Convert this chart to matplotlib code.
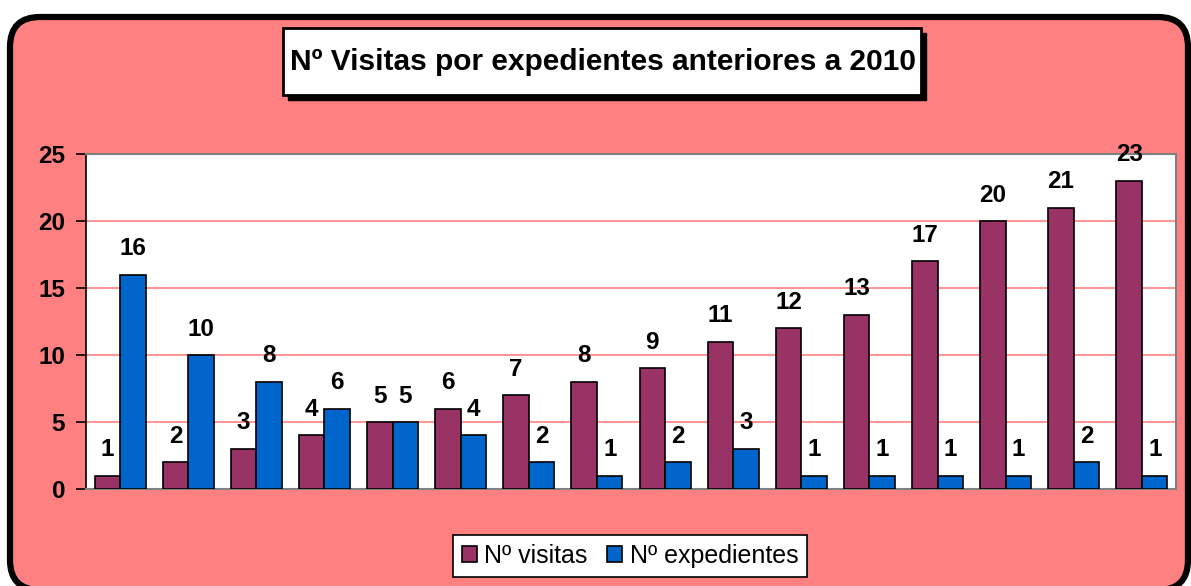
import matplotlib
matplotlib.use("Agg")
import matplotlib.pyplot as plt
import numpy as np
from matplotlib.patches import FancyBboxPatch, Rectangle

plt.rcParams['font.family'] = ['Liberation Sans', 'DejaVu Sans']

title = "Nº Visitas por expedientes anteriores a 2010"
series_names = ["Nº visitas", "Nº expedientes"]
visitas = [1, 2, 3, 4, 5, 6, 7, 8, 9, 11, 12, 13, 17, 20, 21, 23]
expedientes = [16, 10, 8, 6, 5, 4, 2, 1, 2, 3, 1, 1, 1, 1, 2, 1]
yticks = [0, 5, 10, 15, 20, 25]

c_vis = "#993366"
c_exp = "#0066CC"
bg = "#FF8080"

W, H = 11.91, 5.86
fig = plt.figure(figsize=(W, H), dpi=100)
fig.patch.set_facecolor("white")

# outer rounded frame (inches coords)
frame = FancyBboxPatch((0.10 + 0.3, -0.04 + 0.3), 11.78 - 0.6, 5.73 - 0.6,
                       boxstyle="round,pad=0.3", transform=fig.dpi_scale_trans,
                       facecolor=bg, edgecolor="black", linewidth=4.5, zorder=0)
fig.add_artist(frame)

# title box with shadow (pixel coords -> inches)
def px(x, y):
    return x / 100.0, (586 - y) / 100.0
x0, y0 = px(283, 95)
tw, th = (921 - 283) / 100.0, (95 - 28) / 100.0
shadow = Rectangle((x0 + 0.05, y0 - 0.05), tw, th, transform=fig.dpi_scale_trans,
                   facecolor="black", edgecolor="black", linewidth=1, zorder=1)
box = Rectangle((x0, y0), tw, th, transform=fig.dpi_scale_trans,
                facecolor="white", edgecolor="black", linewidth=2, zorder=2)
fig.add_artist(shadow)
fig.add_artist(box)
fig.text(603 / 1191, 1 - 62 / 586, title, ha="center", va="center",
         fontsize=21.5, fontweight="bold", zorder=3)

ax = fig.add_axes([86 / 1191, 1 - 489 / 586, (1176 - 86) / 1191, (489 - 154) / 586])
ax.set_facecolor("white")
x = np.arange(len(visitas))
w = 0.375
b1 = ax.bar(x - w / 2, visitas, w, color=c_vis, edgecolor="black", linewidth=1.2,
            label=series_names[0], zorder=3)
b2 = ax.bar(x + w / 2, expedientes, w, color=c_exp, edgecolor="black", linewidth=1.2,
            label=series_names[1], zorder=3)
for bars, vals in ((b1, visitas), (b2, expedientes)):
    for r, v in zip(bars, vals):
        ax.annotate(str(v), (r.get_x() + r.get_width() / 2, v), xytext=(0, 14),
                    textcoords="offset points", ha="center", va="baseline",
                    fontsize=17.5, fontweight="bold", annotation_clip=False, zorder=4)

ax.set_xlim(-0.5, len(visitas) - 0.5)
ax.set_ylim(0, 25)
ax.set_yticks(yticks)
ax.set_yticklabels([str(t) for t in yticks], fontsize=17.5, fontweight="bold")
ax.set_xticks([])
ax.tick_params(axis="y", direction="out", length=7, width=1.2, pad=8)
ax.yaxis.grid(True, color="#FF8080", linewidth=1.2, zorder=0)
ax.set_axisbelow(True)
for s in ("top", "right", "bottom"):
    ax.spines[s].set_color("#808080")
    ax.spines[s].set_linewidth(1.5)
ax.spines["left"].set_color("black")
ax.spines["left"].set_linewidth(1.2)

leg = fig.legend(handles=[b1, b2], labels=series_names, loc="center",
                 bbox_to_anchor=(630 / 1191, 1 - 556 / 586), ncol=2, fontsize=18,
                 frameon=True, fancybox=False, edgecolor="black", framealpha=1,
                 handlelength=0.6, handleheight=0.6, handletextpad=0.3,
                 columnspacing=0.8, borderpad=0.35)
leg.get_frame().set_linewidth(1.2)

fig.savefig("out.png", dpi=100, facecolor=fig.get_facecolor())
